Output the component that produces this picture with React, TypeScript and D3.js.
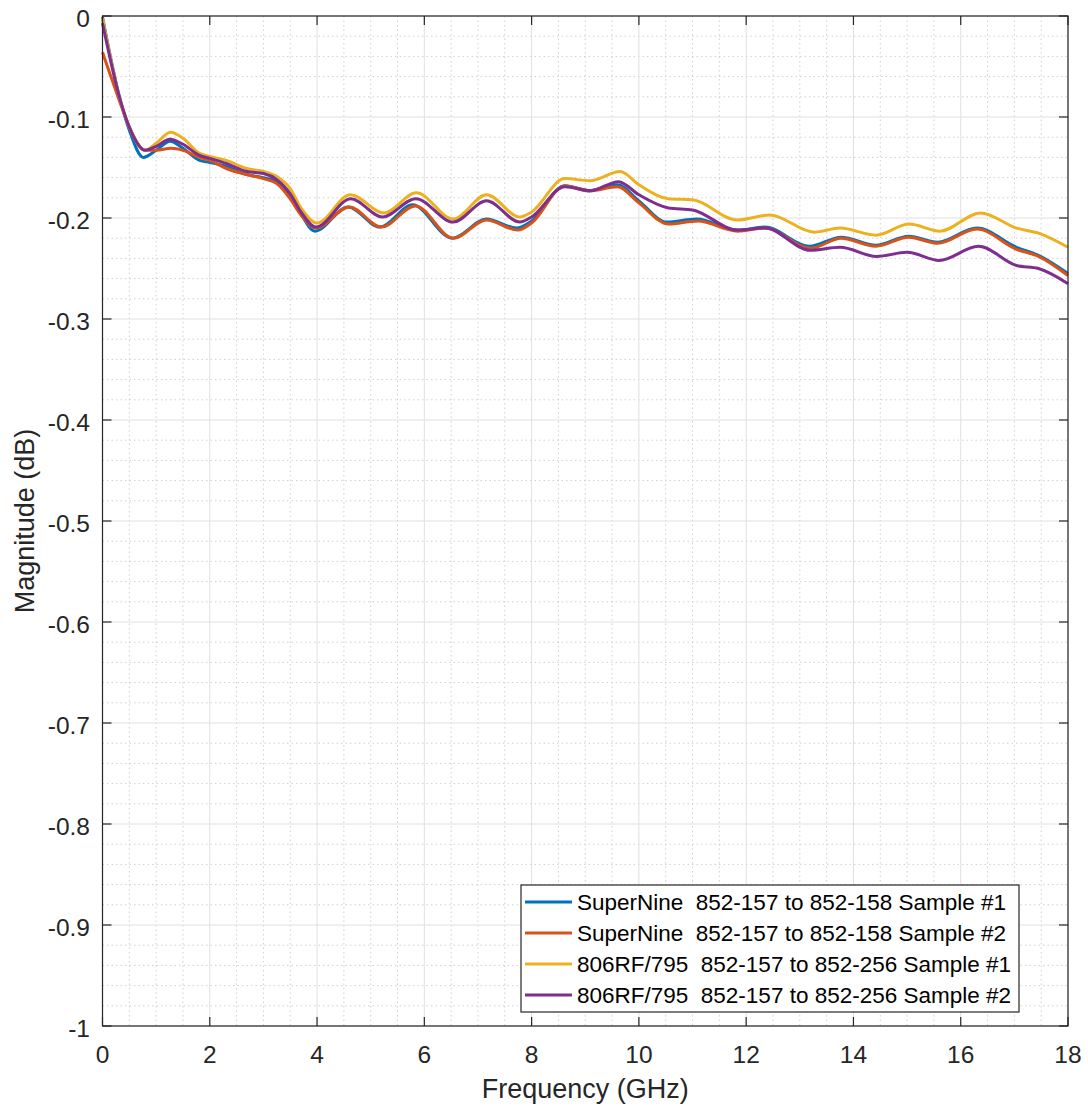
import React from "react";
import * as d3 from "d3";

const seriesNames = [
  "SuperNine  852-157 to 852-158 Sample #1",
  "SuperNine  852-157 to 852-158 Sample #2",
  "806RF/795  852-157 to 852-256 Sample #1",
  "806RF/795  852-157 to 852-256 Sample #2",
];
const seriesColors = ["#0072BD", "#D95319", "#EDB120", "#7E2F8E"];

const blueFreq = [0, 0.33, 0.5, 0.76, 1.0, 1.26, 1.5, 1.81, 2.0, 2.31, 2.69, 3.0, 3.25, 3.5, 3.7, 3.96, 4.58, 5.17, 5.78, 6.52, 7.16, 7.72, 8.0, 8.62, 9.09, 9.6, 10.0, 10.52, 11.08, 11.84, 12.35, 13.18, 13.77, 14.42, 15.03, 15.57, 16.3, 17.04, 17.45, 18];
const blueMag = [-0.001, -0.083, -0.113, -0.14, -0.133, -0.124, -0.131, -0.143, -0.145, -0.149, -0.157, -0.16, -0.164, -0.177, -0.196, -0.213, -0.189, -0.209, -0.187, -0.22, -0.201, -0.21, -0.203, -0.168, -0.173, -0.167, -0.183, -0.204, -0.201, -0.212, -0.209, -0.228, -0.219, -0.227, -0.218, -0.224, -0.21, -0.229, -0.237, -0.255];

const orangeFreq = [0, 0.33, 0.5, 0.8, 1.0, 1.28, 1.5, 1.81, 2.0, 2.31, 2.69, 3.0, 3.25, 3.5, 3.7, 3.98, 4.6, 5.2, 5.83, 6.54, 7.16, 7.74, 8.0, 8.62, 9.09, 9.6, 10.0, 10.55, 11.1, 11.84, 12.35, 13.2, 13.77, 14.42, 15.03, 15.57, 16.3, 17.04, 17.45, 18];
const orangeMag = [-0.036, -0.086, -0.11, -0.133, -0.133, -0.131, -0.133, -0.14, -0.143, -0.151, -0.157, -0.161, -0.166, -0.181, -0.197, -0.21, -0.189, -0.209, -0.188, -0.22, -0.202, -0.212, -0.205, -0.168, -0.173, -0.169, -0.185, -0.206, -0.203, -0.213, -0.21, -0.23, -0.22, -0.228, -0.219, -0.225, -0.211, -0.231, -0.238, -0.257];

const yellowFreq = [0, 0.33, 0.5, 0.8, 1.0, 1.27, 1.5, 1.81, 2.0, 2.31, 2.69, 3.0, 3.25, 3.5, 3.7, 4.0, 4.62, 5.25, 5.85, 6.54, 7.16, 7.78, 8.0, 8.62, 9.09, 9.65, 10.0, 10.55, 11.0, 11.84, 12.44, 13.27, 13.75, 14.42, 15.04, 15.61, 16.37, 17.04, 17.45, 18];
const yellowMag = [-0.002, -0.083, -0.11, -0.133, -0.126, -0.115, -0.121, -0.136, -0.139, -0.143, -0.151, -0.154, -0.159, -0.171, -0.19, -0.205, -0.177, -0.195, -0.175, -0.201, -0.177, -0.199, -0.194, -0.161, -0.163, -0.154, -0.167, -0.181, -0.182, -0.202, -0.197, -0.214, -0.21, -0.217, -0.206, -0.213, -0.195, -0.21, -0.215, -0.229];

const purpleFreq = [0, 0.33, 0.5, 0.8, 1.0, 1.26, 1.5, 1.81, 2.0, 2.31, 2.69, 3.0, 3.25, 3.5, 3.7, 3.98, 4.63, 5.22, 5.84, 6.54, 7.16, 7.78, 8.0, 8.62, 9.09, 9.62, 10.0, 10.55, 11.0, 11.84, 12.35, 13.2, 13.75, 14.43, 15.0, 15.6, 16.33, 17.04, 17.45, 18];
const purpleMag = [-0.007, -0.083, -0.11, -0.133, -0.129, -0.122, -0.127, -0.138, -0.141, -0.146, -0.154, -0.156, -0.162, -0.176, -0.194, -0.209, -0.181, -0.199, -0.181, -0.204, -0.183, -0.204, -0.199, -0.169, -0.173, -0.164, -0.177, -0.19, -0.192, -0.212, -0.21, -0.232, -0.229, -0.238, -0.234, -0.242, -0.228, -0.247, -0.25, -0.265];

const xTicks = [0, 2, 4, 6, 8, 10, 12, 14, 16, 18];
const yTicks = [0, -0.1, -0.2, -0.3, -0.4, -0.5, -0.6, -0.7, -0.8, -0.9, -1];
const yTickLabels = ["0", "-0.1", "-0.2", "-0.3", "-0.4", "-0.5", "-0.6", "-0.7", "-0.8", "-0.9", "-1"];

const W = 1088;
const H = 1110;
const L = 102.5, R = 1068, T = 16, B = 1026;
const FONT = "'Liberation Sans', Arial, Helvetica, sans-serif";
const AX = "#262626";

export default function App() {
  const x = d3.scaleLinear().domain([0, 18]).range([L, R]);
  const y = d3.scaleLinear().domain([-1, 0]).range([B, T]);

  const series = [
    { f: blueFreq, m: blueMag },
    { f: orangeFreq, m: orangeMag },
    { f: yellowFreq, m: yellowMag },
    { f: purpleFreq, m: purpleMag },
  ];
  const line = d3
    .line<[number, number]>()
    .x((d) => x(d[0]))
    .y((d) => y(d[1]))
    .curve(d3.curveMonotoneX);

  const minorX = d3.range(0, 18.001, 0.5).filter((v) => Math.abs(v % 2) > 1e-6);
  const minorY = d3.range(0, 50).map((i) => -i * 0.02).filter((v, i) => i % 5 !== 0);

  const legX = 521, legY = 885, legW = 498, legH = 127;
  const rowY = [902, 933, 964, 995];

  return (
    <svg width={W} height={H} style={{ position: "absolute", left: 0, top: 0, background: "#fff" }} fontFamily={FONT}>
      <rect x={0} y={0} width={W} height={H} fill="#fff" />
      {/* minor grid */}
      {minorX.map((v) => (
        <line key={"mx" + v} x1={x(v)} x2={x(v)} y1={T} y2={B} stroke="#d0d0d0" strokeWidth={1} strokeDasharray="1.5,3" />
      ))}
      {minorY.map((v) => (
        <line key={"my" + v} x1={L} x2={R} y1={y(v)} y2={y(v)} stroke="#d0d0d0" strokeWidth={1} strokeDasharray="1.5,3" />
      ))}
      {/* major grid */}
      {xTicks.map((v) => (
        <line key={"gx" + v} x1={x(v)} x2={x(v)} y1={T} y2={B} stroke="#e0e0e0" strokeWidth={1} />
      ))}
      {yTicks.map((v) => (
        <line key={"gy" + v} x1={L} x2={R} y1={y(v)} y2={y(v)} stroke="#e0e0e0" strokeWidth={1} />
      ))}
      {/* data */}
      <g clipPath="url(#clip)">
        {series.map((s, i) => (
          <path
            key={i}
            d={line(s.f.map((f, k) => [f, s.m[k]] as [number, number])) || ""}
            fill="none"
            stroke={seriesColors[i]}
            strokeWidth={3}
            strokeLinejoin="round"
          />
        ))}
      </g>
      <defs>
        <clipPath id="clip">
          <rect x={L - 2} y={T - 2} width={R - L + 4} height={B - T + 4} />
        </clipPath>
      </defs>
      {/* axes box */}
      <rect x={L} y={T} width={R - L} height={B - T} fill="none" stroke={AX} strokeWidth={1.2} />
      {/* ticks */}
      {xTicks.map((v) => (
        <g key={"tx" + v}>
          <line x1={x(v)} x2={x(v)} y1={B} y2={B - 9} stroke={AX} strokeWidth={1.2} />
          <line x1={x(v)} x2={x(v)} y1={T} y2={T + 9} stroke={AX} strokeWidth={1.2} />
          <text x={x(v)} y={1063} textAnchor="middle" fontSize={24.5} fill={AX}>
            {v}
          </text>
        </g>
      ))}
      {yTicks.map((v, i) => (
        <g key={"ty" + v}>
          <line x1={L} x2={L + 9} y1={y(v)} y2={y(v)} stroke={AX} strokeWidth={1.2} />
          <line x1={R} x2={R - 9} y1={y(v)} y2={y(v)} stroke={AX} strokeWidth={1.2} />
          <text x={90} y={y(v) + 11} textAnchor="end" fontSize={24.5} fill={AX}>
            {yTickLabels[i]}
          </text>
        </g>
      ))}
      {/* axis labels */}
      <text x={(L + R) / 2} y={1098} textAnchor="middle" fontSize={27} fill={AX}>
        Frequency (GHz)
      </text>
      <text transform={`translate(34, ${(T + B) / 2}) rotate(-90)`} textAnchor="middle" fontSize={27} fill={AX}>
        Magnitude (dB)
      </text>
      {/* legend */}
      <rect x={legX} y={legY} width={legW} height={legH} fill="#fff" stroke={AX} strokeWidth={1.2} />
      {seriesNames.map((n, i) => (
        <g key={"lg" + i}>
          <line x1={525} x2={572} y1={rowY[i]} y2={rowY[i]} stroke={seriesColors[i]} strokeWidth={3} />
          <text x={577} y={rowY[i] + 8} fontSize={22.5} fill="#000" style={{ whiteSpace: "pre" }}>
            {n}
          </text>
        </g>
      ))}
    </svg>
  );
}
